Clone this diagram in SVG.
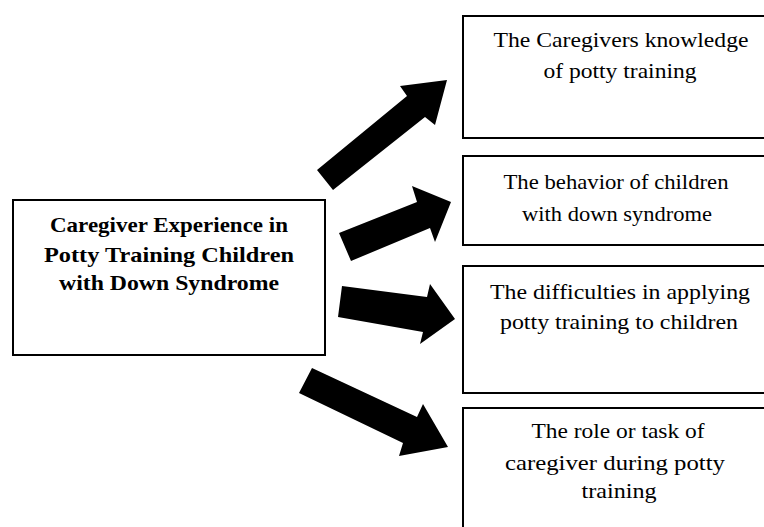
<svg xmlns="http://www.w3.org/2000/svg" width="764" height="527" viewBox="0 0 764 527" font-family="Liberation Serif, serif">
<style>
.box{fill:#fff;stroke:#000;stroke-width:2}
.t{font-family:'Liberation Serif',serif;font-size:21px;fill:#000;text-anchor:middle}
.b{font-weight:bold}
.arr{fill:#000;stroke:none}
</style>
<rect width="764" height="527" fill="#fff"/>
<g id="connectors">
<polygon class="arr" points="317,170 407,96 400,86 447,80 435,125 425,117 333,190"/>
<polygon class="arr" points="339,233 417,202 412,186 451,202 435,242 430,228 351,261"/>
<polygon class="arr" points="342,286 427,297 430,284 455,319 420,344 423,332 338,317"/>
<polygon class="arr" points="312,368 417,417 423,404 448,447 399,456 403,443 299,393"/>
</g>
<g id="main">
<rect class="box" x="13" y="200" width="312" height="155"/>
<text class="t b" x="169" y="232" textLength="238" lengthAdjust="spacingAndGlyphs">Caregiver Experience in</text>
<text class="t b" x="169" y="262" textLength="250" lengthAdjust="spacingAndGlyphs">Potty Training Children</text>
<text class="t b" x="169" y="290" textLength="220" lengthAdjust="spacingAndGlyphs">with Down Syndrome</text>
</g>
<g id="knowledge">
<rect class="box" x="463" y="16" width="340" height="122"/>
<text class="t" x="621" y="47" textLength="255" lengthAdjust="spacingAndGlyphs">The Caregivers knowledge</text>
<text class="t" x="620" y="78" textLength="153" lengthAdjust="spacingAndGlyphs">of potty training</text>
</g>
<g id="behavior">
<rect class="box" x="463" y="156" width="340" height="89"/>
<text class="t" x="616" y="189" textLength="225" lengthAdjust="spacingAndGlyphs">The behavior of children</text>
<text class="t" x="617" y="221" textLength="190" lengthAdjust="spacingAndGlyphs">with down syndrome</text>
</g>
<g id="difficulties">
<rect class="box" x="463" y="266" width="340" height="127"/>
<text class="t" x="620" y="299" textLength="260" lengthAdjust="spacingAndGlyphs">The difficulties in applying</text>
<text class="t" x="619" y="329" textLength="238" lengthAdjust="spacingAndGlyphs">potty training to children</text>
</g>
<g id="role">
<rect class="box" x="463" y="408" width="340" height="140"/>
<text class="t" x="618" y="438" textLength="173" lengthAdjust="spacingAndGlyphs">The role or task of</text>
<text class="t" x="615" y="470" textLength="220" lengthAdjust="spacingAndGlyphs">caregiver during potty</text>
<text class="t" x="619" y="498" textLength="75" lengthAdjust="spacingAndGlyphs">training</text>
</g>
</svg>
